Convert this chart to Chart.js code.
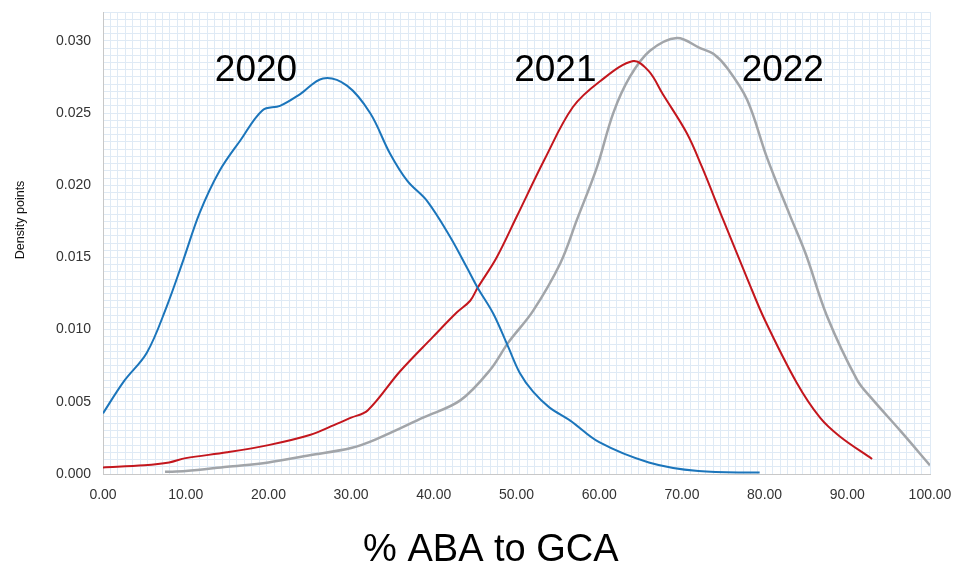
<!DOCTYPE html>
<html>
<head>
<meta charset="utf-8">
<script src="https://cdn.jsdelivr.net/npm/chart.js@4/dist/chart.umd.min.js"></script>
<style>
  html, body { margin: 0; padding: 0; background: #fff; }
  #wrap { width: 955px; height: 563px; }
</style>
</head>
<body>
<div id="wrap"><canvas id="densityChart" width="955" height="563"></canvas></div>
<script>
// values
const x2020 = [0, 2.5, 5.3, 7.7, 9.7, 11.7, 14.1, 16.6, 19.3, 21.4, 23.8, 26.6, 29.5, 32.3, 34.7, 36.8, 39.2, 42, 44, 45.3, 47.2, 49, 50.4, 52, 54, 56.5, 60, 66, 72, 79.4];
const y2020 = [0.0042, 0.0064, 0.0084, 0.0116, 0.0148, 0.0181, 0.0210, 0.0231, 0.0252, 0.0255, 0.0263, 0.0274, 0.0269, 0.0250, 0.0222, 0.0203, 0.0189, 0.0164, 0.0143, 0.0129, 0.0111, 0.0088, 0.0070, 0.0057, 0.0046, 0.0037, 0.0022, 0.0008, 0.0002, 0.0001];

const x2021 = [0, 5, 8, 10, 15, 20, 25, 28, 30, 32, 35.9, 39.9, 42.8, 44.4, 45.3, 47.6, 50, 53.4, 56.8, 60.1, 64.1, 66, 67.7, 70.6, 72.4, 75, 78, 80, 83.9, 86.7, 89.1, 93];
const y2021 = [0.00045, 0.0006, 0.0008, 0.0011, 0.0015, 0.0020, 0.0027, 0.0034, 0.0039, 0.0044, 0.0071, 0.0095, 0.0112, 0.0120, 0.0129, 0.0150, 0.0178, 0.0218, 0.0254, 0.0272, 0.0286, 0.0279, 0.0263, 0.0236, 0.0213, 0.0176, 0.0134, 0.0107, 0.0063, 0.0039, 0.0026, 0.00104];

const x2022 = [7.5, 10, 15, 20, 25, 30, 33, 38.7, 43.2, 46.8, 49, 52, 55.3, 57.3, 59.7, 61.7, 63.7, 66.1, 69.4, 72.2, 73.8, 75.5, 77.9, 80.3, 83, 85, 87.5, 91.2, 93, 96.4, 100];
const y2022 = [0.00015, 0.0002, 0.0005, 0.0008, 0.0013, 0.0018, 0.0024, 0.0039, 0.0051, 0.0072, 0.0091, 0.0113, 0.0146, 0.0176, 0.0212, 0.0250, 0.0275, 0.0293, 0.0302, 0.0295, 0.0291, 0.0281, 0.0259, 0.0219, 0.0180, 0.0152, 0.0110, 0.0065, 0.0052, 0.0030, 0.0006];

const seriesLabels = ["2020", "2021", "2022"];
// where each year label sits, in data units
const labelX = [18.5, 54.7, 82.2];
const labelY = [0.0279, 0.0279, 0.0279];
const xTitle = "% ABA to GCA";
const xTitleAt = 46.9;   // centre of the x title, in data units
const yTitle = "Density points";
const yTitleAt = 0.0176; // centre of the y title, in data units

function points(xs, ys) {
    return xs.map((x, i) => ({ x: x, y: ys[i] }));
}

const font = "'Liberation Sans', Arial, sans-serif";
const gridColor = "#dfeaf5";

// year labels and the axis titles
const textLayer = {
    id: "textLayer",
    afterDatasetsDraw(chart) {
        const ctx = chart.ctx;
        const xs = chart.scales.x, ys = chart.scales.y;
        ctx.save();
        ctx.fillStyle = "#000";
        ctx.textAlign = "center";
        ctx.textBaseline = "middle";
        ctx.font = "37px " + font;
        seriesLabels.forEach((t, i) => {
            ctx.fillText(t, xs.getPixelForValue(labelX[i]), ys.getPixelForValue(labelY[i]));
        });
        ctx.font = "38px " + font;
        ctx.fillText(xTitle, xs.getPixelForValue(xTitleAt), xs.bottom - 12);
        ctx.translate(21, ys.getPixelForValue(yTitleAt));
        ctx.rotate(-Math.PI / 2);
        ctx.fillStyle = "#111";
        ctx.font = "12.5px " + font;
        ctx.fillText(yTitle, 0, 0);
        ctx.restore();
    }
};

function noEdgePadding(s) {
    s.paddingTop = 0;
    s.paddingBottom = 0;
    s.paddingLeft = 0;
    s.paddingRight = 0;
}

new Chart(document.getElementById("densityChart").getContext("2d"), {
    type: "line",
    data: {
        datasets: [
            { label: "2020", data: points(x2020, y2020), borderColor: "#1b75bb", borderWidth: 2 },
            { label: "2021", data: points(x2021, y2021), borderColor: "#c3161d", borderWidth: 2 },
            { label: "2022", data: points(x2022, y2022), borderColor: "#a2a5a9", borderWidth: 2.5 }
        ]
    },
    options: {
        responsive: false,
        animation: false,
        layout: { padding: { top: 12, right: 25, left: 0, bottom: 0 } },
        elements: {
            point: { radius: 0 },
            line: { tension: 0.35, fill: false }
        },
        plugins: {
            legend: { display: false },
            tooltip: { enabled: false }
        },
        scales: {
            x: {
                type: "linear",
                min: 0,
                max: 100,
                ticks: {
                    stepSize: 10,
                    color: "#333",
                    font: { family: font, size: 14 },
                    padding: 5,
                    maxRotation: 0,
                    callback: v => v.toFixed(2)
                },
                grid: { display: false },
                border: { color: "#c8c8c8" },
                afterFit: s => { s.height = 89; noEdgePadding(s); }
            },
            xg: {
                type: "linear",
                position: "top",
                min: 0,
                max: 100,
                ticks: { display: false, stepSize: 0.9, autoSkip: false },
                grid: { color: gridColor, drawTicks: false },
                border: { display: false },
                afterFit: s => { s.height = 0; noEdgePadding(s); }
            },
            y: {
                min: 0,
                max: 0.032,
                ticks: {
                    stepSize: 0.0005,
                    autoSkip: false,
                    color: "#333",
                    font: { family: font, size: 14 },
                    padding: 12,
                    callback: v => {
                        const k = Math.round(v / 0.0005);
                        return k % 10 === 0 ? v.toFixed(3) : "";
                    }
                },
                grid: { color: gridColor, drawTicks: false },
                border: { color: "#c8c8c8" },
                afterFit: s => { s.width = 103; noEdgePadding(s); }
            }
        }
    },
    plugins: [textLayer]
});
</script>
</body>
</html>
